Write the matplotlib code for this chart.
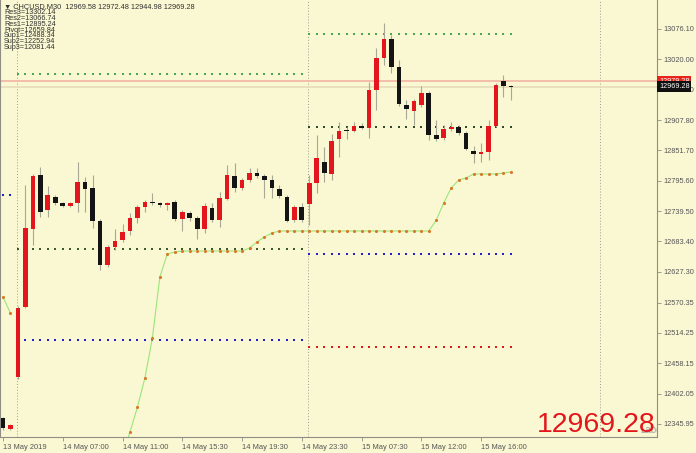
import matplotlib
matplotlib.use('Agg')
import matplotlib.pyplot as plt
import matplotlib.transforms as mtrans
from matplotlib import font_manager
import numpy as np

names = {f.name for f in font_manager.fontManager.ttflist}
FONT = 'Liberation Sans Narrow' if 'Liberation Sans Narrow' in names else 'Liberation Sans'
NARROW = FONT == 'Liberation Sans Narrow'
plt.rcParams['font.family'] = [FONT, 'DejaVu Sans']

# ---------------- data ----------------
opens = [12357.0, 12336.7, 12432.8, 12562.2, 12706.4, 12806.2, 12741.5, 12765.5, 12754.5, 12748.9,
         12754.5, 12793.3, 12782.2, 12721.2, 12639.8, 12673.1, 12686.1, 12702.7, 12726.7, 12747.1,
         12754.5, 12754.5, 12750.8, 12756.3, 12724.9, 12736.0, 12726.7, 12706.4, 12745.2, 12723.0,
         12761.8, 12804.4, 12782.2, 12797.0, 12809.9, 12804.4, 12797.0, 12780.3, 12765.5, 12723.0,
         12747.1, 12752.6, 12791.4, 12830.2, 12808.1, 12872.8, 12887.5, 12887.5, 12896.8, 12893.1,
         12963.3, 13022.5, 13057.6, 13005.9, 12935.6, 12924.5, 12935.6, 12957.8, 12880.2, 12874.6,
         12891.2, 12894.9, 12883.8, 12850.6, 12845.0, 12848.7, 12896.8, 12980.0, 12969.58]
highs = [12358.9, 12345.9, 12564.1, 12787.7, 12808.1, 12821.0, 12785.9, 12769.2, 12756.3, 12756.3,
         12830.2, 12802.5, 12806.2, 12724.9, 12676.8, 12706.4, 12715.6, 12736.0, 12750.8, 12760.0,
         12772.9, 12756.3, 12756.3, 12760.0, 12741.5, 12739.7, 12730.4, 12754.5, 12754.5, 12774.8,
         12824.7, 12828.4, 12800.7, 12819.2, 12819.2, 12808.1, 12806.2, 12787.7, 12769.2, 12750.8,
         12754.5, 12806.2, 12880.2, 12858.0, 12882.0, 12904.2, 12894.9, 12904.2, 12902.3, 12978.1,
         13041.0, 13087.2, 13065.0, 13018.8, 12944.8, 12946.7, 12970.7, 12961.5, 12907.9, 12898.6,
         12904.2, 12898.6, 12887.5, 12859.8, 12865.4, 12907.9, 12976.3, 12991.1, 12972.48]
lows = [12334.8, 12334.8, 12429.1, 12560.4, 12676.8, 12728.6, 12728.6, 12750.8, 12747.1, 12747.1,
        12737.8, 12737.8, 12708.2, 12630.6, 12636.1, 12667.6, 12682.4, 12695.3, 12717.5, 12737.8,
        12750.8, 12747.1, 12741.5, 12721.2, 12702.7, 12721.2, 12687.9, 12699.0, 12719.3, 12710.1,
        12760.0, 12774.8, 12778.5, 12793.3, 12800.7, 12763.7, 12763.7, 12763.7, 12719.3, 12719.3,
        12719.3, 12713.8, 12772.9, 12793.3, 12797.0, 12839.5, 12872.8, 12885.7, 12891.2, 12874.6,
        12926.4, 13009.5, 12994.8, 12933.8, 12909.7, 12898.6, 12931.9, 12870.9, 12869.1, 12870.9,
        12887.5, 12880.2, 12852.4, 12828.4, 12830.2, 12833.9, 12894.9, 12950.4, 12944.98]
closes = [12338.5, 12344.1, 12560.4, 12708.2, 12804.4, 12737.8, 12769.2, 12754.5, 12748.9, 12754.5,
          12793.3, 12780.3, 12721.2, 12639.8, 12673.1, 12684.2, 12700.8, 12726.7, 12747.1, 12756.3,
          12754.5, 12750.8, 12754.5, 12724.9, 12737.8, 12726.7, 12706.4, 12748.9, 12723.0, 12763.7,
          12806.2, 12782.2, 12797.0, 12809.9, 12804.4, 12797.0, 12782.2, 12767.4, 12721.2, 12747.1,
          12723.0, 12791.4, 12837.6, 12809.9, 12869.1, 12887.5, 12887.5, 12896.8, 12893.1, 12963.3,
          13022.5, 13057.6, 13005.9, 12937.5, 12928.2, 12943.0, 12957.8, 12880.2, 12872.8, 12891.2,
          12894.9, 12883.8, 12854.3, 12845.0, 12848.7, 12896.8, 12972.6, 12970.7, 12969.28]

nan = float('nan')
avg_line = [12580.7, 12551.1, nan, nan, nan, nan, nan, nan, nan, nan,
            nan, nan, nan, nan, nan, nan, 12290.0, 12331.1, 12377.4, 12431.0,
            12505.0, 12617.7, 12660.2, 12663.9, 12665.7, 12665.7, 12665.7, 12665.7, 12665.7, 12665.7,
            12665.7, 12665.7, 12665.7, 12671.3, 12682.4, 12691.6, 12699.0, 12702.7, 12702.7, 12702.7,
            12702.7, 12702.7, 12702.7, 12702.7, 12702.7, 12702.7, 12702.7, 12702.7, 12702.7, 12702.7,
            12702.7, 12702.7, 12702.7, 12702.7, 12702.7, 12702.7, 12702.7, 12702.7, 12722.6, 12754.5,
            12782.2, 12797.0, 12800.7, 12808.1, 12808.1, 12808.1, 12808.1, 12809.9, 12811.8]

day13_levels = [12769.2]
day14_levels = [12992.9, 12669.4, 12501.0]
day15_levels = [13066.74, 12895.24, 12659.84, 12488.34]
pivot_text = ['Res3=13302.14', 'Res2=13066.74', 'Res1=12895.24', 'Pivot=12659.84',
              'Sup1=12488.34', 'Sup2=12252.94', 'Sup3=12081.44']

ytick_vals = [13076.10, 13020.00, 12963.90, 12907.80, 12851.70, 12795.60, 12739.50, 12683.40,
              12627.30, 12570.35, 12514.25, 12458.15, 12402.05, 12345.95]
xtick_pos = [0, 8, 16, 24, 32, 40, 48, 56, 64]
xtick_labels = ['13 May 2019', '14 May 07:00', '14 May 11:00', '14 May 15:30', '14 May 19:30',
                '14 May 23:30', '15 May 07:30', '15 May 12:00', '15 May 16:00']
separators = [1.9, 40.85, 79.9]
ask_price = 12979.28
bid_price = 12969.28

# ---------------- figure ----------------
W, H = 696, 453
BG = '#FAF8D2'
fig = plt.figure(figsize=(W / 100, H / 100), dpi=100, facecolor=BG)
ax = fig.add_axes([0, 16 / H, 657 / W, 437 / H], facecolor=BG)
ax.set_xlim(-0.4, 87.55)
ax.set_ylim(12321.9, 13129.7)

idx = np.arange(len(opens))
o = np.array(opens); c = np.array(closes); hi = np.array(highs); lo = np.array(lows)
up = c > o
RED = '#E3161D'
BLK = '#141414'

for x in separators:
    ax.axvline(x, color='#9c9c94', lw=0.7, ls=(0, (1, 2)), zorder=1)

ax.axhline(ask_price, color='#F2B4A2', lw=1.2, zorder=1)
ax.axhline(bid_price, color='#E6DDB8', lw=1.2, zorder=1)

def piv(first, last, level, color):
    xs = np.arange(first, last + 1)
    ax.scatter(xs, [level] * len(xs), marker='s', s=2.2, color=color, lw=0, zorder=2)

piv(0, 1, day13_levels[0], '#2020D0')
piv(2, 40, day14_levels[0], '#4AA84A')
piv(2, 40, day14_levels[1], '#3C5A30')
piv(2, 40, day14_levels[2], '#2020D0')
piv(41, 68, day15_levels[0], '#4AA84A')
piv(41, 68, day15_levels[1], '#2F4A28')
piv(41, 68, day15_levels[2], '#2020D0')
piv(41, 68, day15_levels[3], '#E01818')

av = np.array(avg_line)
ax.plot(idx, av, color='#9BE57A', lw=0.8, zorder=2)
ax.scatter(idx, av, s=5, color='#D9782A', lw=0, zorder=3)

ax.vlines(idx, lo, hi, color='#A8A896', lw=0.8, zorder=4)
body_h = np.maximum(np.abs(c - o), 1.6)
ax.bar(idx, body_h, bottom=np.minimum(o, c), width=0.62,
       color=np.where(up, RED, BLK), edgecolor='none', zorder=5)

ax.spines['top'].set_visible(False)
for s in ['left', 'right', 'bottom']:
    ax.spines[s].set_color('#8E8E86')
    ax.spines[s].set_linewidth(0.8)
ax.yaxis.tick_right()
ax.set_yticks(ytick_vals)
ax.set_yticklabels(['%.2f' % v for v in ytick_vals])
ysize = 6.3 if NARROW else 5.3
ax.tick_params(axis='y', colors='#8E8E86', labelcolor='#555555', labelsize=ysize,
               length=3, width=0.6, pad=1.5)
ax.set_xticks(xtick_pos)
ax.set_xticklabels(xtick_labels, ha='left')
ax.tick_params(axis='x', colors='#8E8E86', labelcolor='#555555', labelsize=6 if NARROW else 5.4,
               length=3, width=0.6, pad=2)

bt = mtrans.blended_transform_factory(ax.transAxes, ax.transData)
tag_size = 6 if NARROW else 5.2
ax.text(1.003, ask_price, '%.2f' % ask_price, transform=bt, ha='left', va='center',
        color='white', fontsize=tag_size, clip_on=False, zorder=10,
        bbox=dict(boxstyle='square,pad=0.25', fc='#E8251B', ec='none'))
ax.text(1.003, bid_price, '%.2f' % bid_price, transform=bt, ha='left', va='center',
        color='white', fontsize=tag_size, clip_on=False, zorder=11,
        bbox=dict(boxstyle='square,pad=0.25', fc='#101010', ec='none'))

fig.text(4 / W, 1 - 7 / H, '\u25bc CHCUSD,M30  %.2f %.2f %.2f %.2f' % (opens[-1], highs[-1], lows[-1], closes[-1]),
         fontsize=5.3, color='#303030', va='center', ha='left')
for k, t in enumerate(pivot_text):
    fig.text(4 / W, 1 - (13 + 5.7 * k) / H, t, fontsize=5.2, color='#303030', va='center', ha='left')

fig.text(656 / W, (H - 432) / H, '%.2f' % bid_price, fontsize=24 if NARROW else 20.5,
         color='#E3161D', ha='right', va='baseline')
ax.text(640 / 657, 0.005, 'Label', transform=ax.transAxes, fontsize=7, color='#A0A0A0',
        ha='left', va='bottom', clip_on=True, zorder=6)

fig.savefig('out.png', dpi=100, facecolor=BG)
